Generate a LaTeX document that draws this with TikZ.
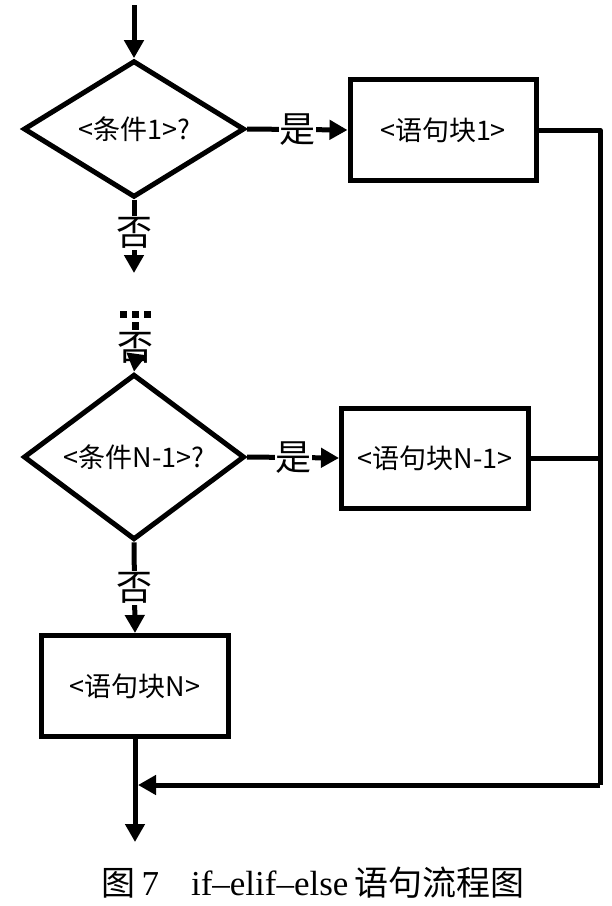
\documentclass[tikz,border=0pt]{standalone}
\usepackage{fontspec}
\setmainfont{Noto Sans CJK SC}
\newfontfamily\capcjk{Noto Sans CJK SC}
\newfontfamily\caplat{Liberation Serif}
\usetikzlibrary{shapes.geometric,arrows.meta}
\begin{document}
\begin{tikzpicture}[x=1pt,y=-1pt,line width=5pt,
  arr/.style={-{Triangle[length=18pt,width=19pt]}},
  dec/.style={diamond,draw,line width=5pt,minimum width=221pt,minimum height=133pt,inner sep=0pt,font=\fontsize{27}{27}\selectfont},
  blk/.style={rectangle,draw,line width=5pt,inner sep=0pt,font=\fontsize{27}{27}\selectfont},
  lab/.style={fill=white,inner sep=0.5pt,text height=29pt,text depth=4pt,font=\fontsize{36}{36}\selectfont},
  dotsq/.style={fill=black,minimum size=7pt,inner sep=0pt}]
\useasboundingbox (0,0) rectangle (612,906);
\coordinate (start) at (134,5);
\node[dec] (c1) at (134,129) {<条件1>?};
\node[blk,minimum width=186pt,minimum height=101pt] (b1) at (443,130) {<语句块1>};
\draw[arr] (start) -- (c1.north);
\draw[arr] (c1.east) -- node[lab]{是} (b1.west);
\coordinate (n1) at (134,273);
\draw[arr] (c1.south) -- node[lab,pos=0.45]{否} (n1);
\node[dec] (c2) at (134,457) {<条件N-1>?};
\node[lab,inner sep=0pt,outer sep=0pt] (no2) at (135,348) {否};
\draw[arr] (no2.south) -- (c2.north);
\node[dotsq] (d1) at (123,314) {};
\node[dotsq] (d2) at (135,314) {};
\node[dotsq] (d3) at (147,314) {};
\node[dotsq,minimum height=8pt] (d4) at (135,326) {};
\node[blk,minimum width=187pt,minimum height=100pt] (b2) at (435,458) {<语句块N-1>};
\draw[arr] (c2.east) -- node[lab]{是} (b2.west);
\node[blk,minimum width=187pt,minimum height=101pt] (bN) at (135,686) {<语句块N>};
\draw[arr] (c2.south) -- node[lab]{否} (bN.north);
\coordinate (rt) at (600,785);
\coordinate (merge) at (138,785);
\coordinate (end) at (135,842);
\draw[line join=round] (b1.east) -- (b1.east -| rt) -- (rt);
\draw (b2.east) -- (b2.east -| rt);
\draw[arr,line join=round] (rt) -- (merge);
\draw[arr] (bN.south) -- (end);
\node[font=\fontsize{34}{34}\selectfont] (cap) at (313,883) {\capcjk 图\,{\caplat\fontsize{35}{35}\selectfont 7}\hspace{32pt}{\caplat\fontsize{35}{35}\selectfont if–elif–else}\,语句流程图};
\end{tikzpicture}
\end{document}
